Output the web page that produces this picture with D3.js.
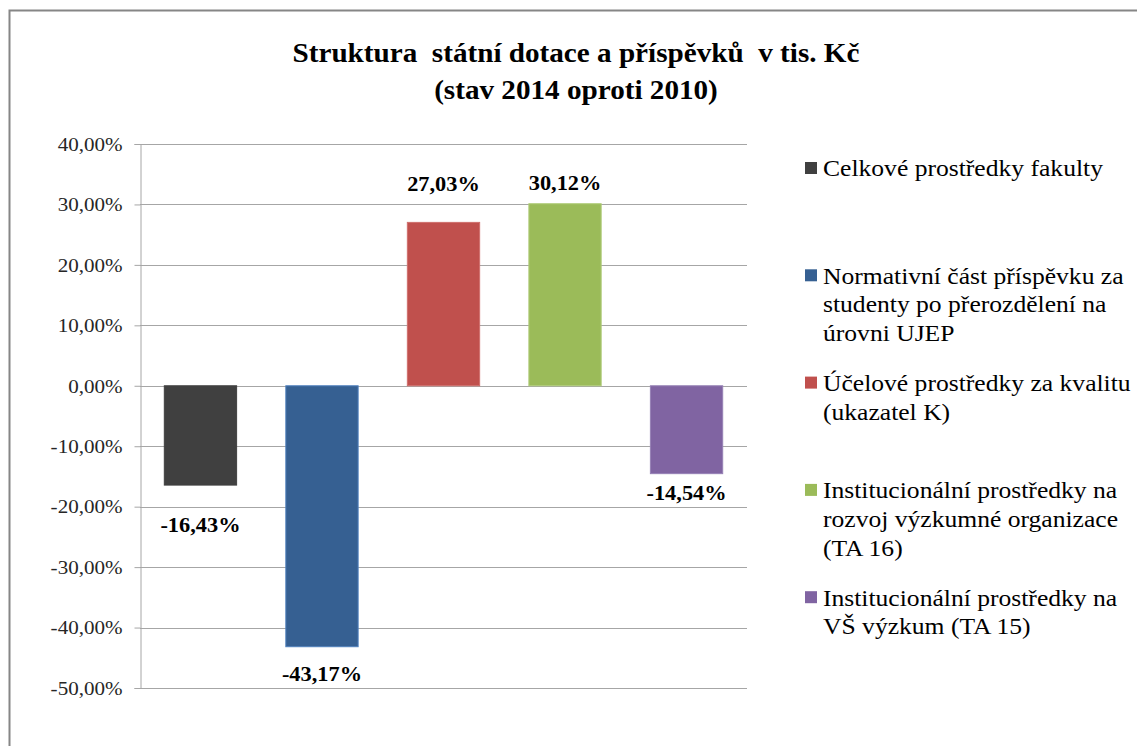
<!DOCTYPE html>
<html>
<head>
<meta charset="utf-8">
<script src="https://cdn.jsdelivr.net/npm/d3@7"></script>
<style>
	body { margin: 0; background: #fff; }
</style>
</head>
<body>
<svg class="chart"></svg>
<script>
// data
const categories = [
	'Celkové prostředky fakulty',
	'Normativní část příspěvku za studenty po přerozdělení na úrovni UJEP',
	'Účelové prostředky za kvalitu (ukazatel K)',
	'Institucionální prostředky na rozvoj výzkumné organizace (TA 16)',
	'Institucionální prostředky na VŠ výzkum (TA 15)'
]
const legendLines = [
	['Celkové prostředky fakulty'],
	['Normativní část příspěvku za', 'studenty po přerozdělení na', 'úrovni UJEP'],
	['Účelové prostředky za kvalitu', '(ukazatel K)'],
	['Institucionální prostředky na', 'rozvoj výzkumné organizace', '(TA 16)'],
	['Institucionální prostředky na', 'VŠ výzkum (TA 15)']
]
const values = [-16.43, -43.17, 27.03, 30.12, -14.54]
const yTicks = [40, 30, 20, 10, 0, -10, -20, -30, -40, -50]
const colors = ['#404040', '#366092', '#c0504d', '#9bbb59', '#8064a2']
const strokes = ['#404040', '#4f81bd', '#d0706d', '#b0cc7a', '#9680b5']

const FONT = 'Liberation Serif'
const SX = 1.08 //the original text is a bit wider than Liberation Serif

// svg size
const svgWidth = 1137,
	svgHeight = 746

// plot area
const plotLeft = 140,
	plotRight = 747,
	plotTop = 144,
	plotBottom = 688

// manual label gaps (px from the bar end), as in the original
const labelGap = [40, 27, 39, 21, 19]

const fmt = function (v) {
	return d3.format('.2f')(v).replace('.', ',').replace('\u2212', '-') + '%'
}

//widen text horizontally around its anchor x
function stretch(sel, cx) {
	sel.attr('transform', function () {
		const x = cx != null ? cx : +d3.select(this).attr('x') || 0
		return 'translate(' + x * (1 - SX) + ',0) scale(' + SX + ',1)'
	})
}

const svg = d3.select('.chart')
	.attr('width', svgWidth)
	.attr('height', svgHeight)
	.attr('font-family', FONT)

// outer frame
svg.append('rect')
	.attr('x', 9.5)
	.attr('y', 10.5)
	.attr('width', svgWidth + 20)
	.attr('height', svgHeight + 20)
	.attr('fill', 'none')
	.attr('stroke', '#868686')
	.attr('stroke-width', 2)

// title
const title = svg.append('text')
	.attr('font-family', FONT)
	.attr('text-anchor', 'middle')
	.attr('font-weight', 'bold')
	.attr('font-size', 27)
	.attr('fill', '#000')
title.append('tspan').attr('x', 576).attr('y', 62)
	.style('white-space', 'pre')
	.text('Struktura  státní dotace a příspěvků  v tis. Kč')
title.append('tspan').attr('x', 576).attr('y', 99).text('(stav 2014 oproti 2010)')
stretch(title, 576)

const xScale = d3.scaleBand()
	.domain(d3.range(values.length))
	.range([plotLeft, plotRight])
	.paddingInner(0.405)
	.paddingOuter(0.2)

const yScale = d3.scaleLinear()
	.domain([-50, 40])
	.range([plotBottom, plotTop])

// gridlines
svg.append('g')
	.selectAll('line')
	.data(yTicks)
	.enter()
	.append('line')
	.attr('x1', plotLeft)
	.attr('x2', plotRight)
	.attr('y1', function (d) { return Math.round(yScale(d)) + 0.5 })
	.attr('y2', function (d) { return Math.round(yScale(d)) + 0.5 })
	.attr('stroke', '#a6a6a6')
	.attr('stroke-width', 1)

// y axis
const y_axis = d3.axisLeft(yScale)
	.tickValues(yTicks)
	.tickSize(6)
	.tickPadding(12)
	.tickFormat(fmt)

const yAxisG = svg.append('g')
	.attr('transform', 'translate(' + (plotLeft + 0.5) + ',0)')
	.call(y_axis)
	.attr('font-family', FONT)
	.attr('font-size', 19.5)
yAxisG.select('.domain').attr('stroke', '#a6a6a6')
yAxisG.selectAll('.tick line').attr('stroke', '#a6a6a6')
yAxisG.selectAll('.tick text')
	.attr('font-family', FONT)
	.attr('fill', '#262626')
	.call(stretch)

// bars
svg.append('g')
	.selectAll('rect')
	.data(values)
	.enter()
	.append('rect')
	.attr('x', function (d, i) { return xScale(i) })
	.attr('width', xScale.bandwidth())
	.attr('y', function (d) { return yScale(Math.max(0, d)) })
	.attr('height', function (d) { return Math.abs(yScale(d) - yScale(0)) })
	.attr('fill', function (d, i) { return colors[i] })
	.attr('stroke', function (d, i) { return strokes[i] })
	.attr('stroke-width', 1)

// data labels
svg.append('g')
	.selectAll('text')
	.data(values)
	.enter()
	.append('text')
	.attr('font-family', FONT)
	.attr('x', function (d, i) { return xScale(i) + xScale.bandwidth() / 2 })
	.attr('y', function (d, i) {
		return d >= 0 ? yScale(d) - labelGap[i] : yScale(d) + labelGap[i]
	})
	.attr('dy', '0.35em')
	.attr('text-anchor', 'middle')
	.attr('font-weight', 'bold')
	.attr('font-size', 20.7)
	.attr('fill', '#000')
	.text(function (d) { return fmt(d) })
	.call(stretch)

// legend
const legendTop = 168,
	legendStep = 107.3,
	lineHeight = 28.7

const legend = svg.append('g')
	.selectAll('g')
	.data(categories)
	.enter()
	.append('g')
	.attr('transform', function (d, i) {
		return 'translate(805,' + (legendTop + legendStep * i) + ')'
	})

legend.append('rect')
	.attr('x', 0)
	.attr('y', -6)
	.attr('width', 12)
	.attr('height', 12)
	.attr('fill', function (d, i) { return colors[i] })

legend.append('text')
	.attr('font-family', FONT)
	.attr('font-size', 23.7)
	.attr('fill', '#000')
	.each(function (d, i) {
		d3.select(this)
			.selectAll('tspan')
			.data(legendLines[i])
			.enter()
			.append('tspan')
			.attr('x', 18)
			.attr('y', function (l, j) { return j * lineHeight })
			.attr('dy', '0.35em')
			.text(function (l) { return l })
	})
	.call(stretch, 18)
</script>
</body>
</html>
